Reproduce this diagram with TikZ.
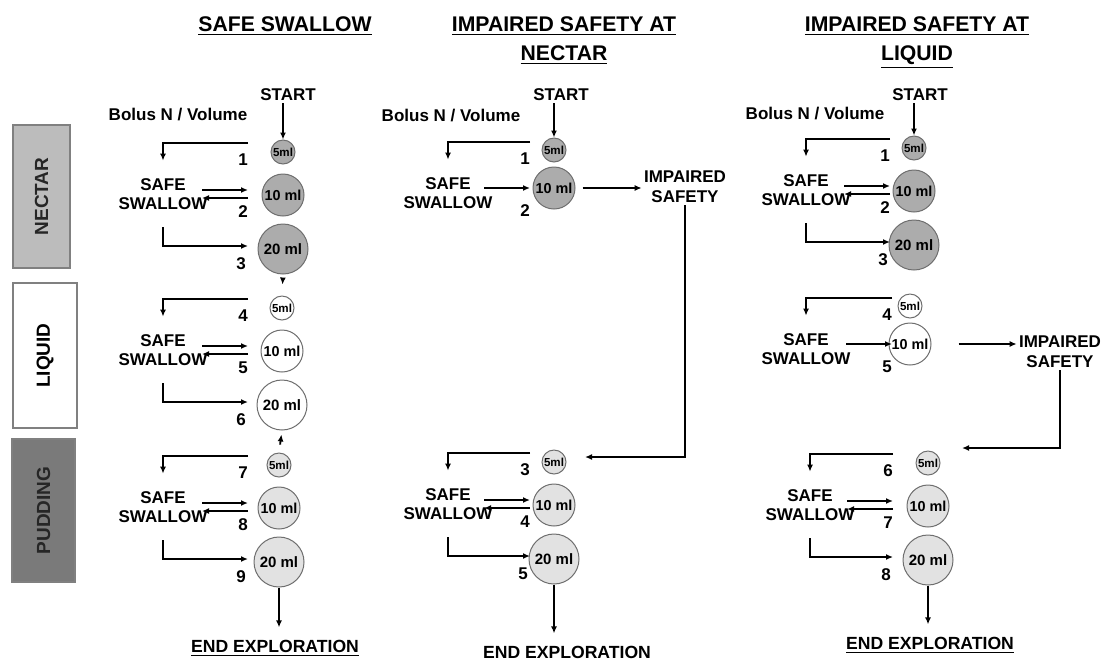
\documentclass[tikz,border=0pt]{standalone}
\usepackage{fontspec}
\setmainfont{Liberation Sans}
\usetikzlibrary{arrows.meta,calc}

\definecolor{nectarfill}{RGB}{172,172,172}
\definecolor{puddingfill}{RGB}{226,226,226}
\definecolor{nectarbox}{RGB}{188,188,188}
\definecolor{puddingbox}{RGB}{122,122,122}
\definecolor{rim}{RGB}{110,110,110}

\tikzset{
  lbl/.style={font=\bfseries\fontsize{8.5}{9.8}\selectfont, align=center, inner sep=1pt},
  hdr/.style={font=\bfseries\fontsize{10.6}{14.5}\selectfont, align=center, inner sep=0pt, anchor=north},
  endlbl/.style={font=\bfseries\fontsize{8.8}{10}\selectfont, inner xsep=1pt, inner ysep=6pt},
  bolus/.style={circle, draw=rim, line width=0.5pt, inner sep=0pt},
  arr/.style={line width=0.9pt, -{Latex[length=3.5pt,width=3pt]}},
  dbl/.style={line width=0.7pt, -{Latex[length=3.5pt,width=3pt]}},
  sidebox/.style={draw=gray, line width=0.6pt, rotate=90, inner sep=0pt,
    font=\bfseries\fontsize{9.5}{11}\selectfont}
}

\begin{document}
\begin{tikzpicture}[x=0.5pt, y=-0.5pt]
\useasboundingbox (0,0) rectangle (1107,660);

% consistency bands
\node[sidebox, fill=nectarbox, text=black!85, minimum width=71.5pt, minimum height=28.5pt] (nectar) at (41.5,196.5) {NECTAR};
\node[sidebox, fill=white, minimum width=72.5pt, minimum height=32pt] (liquid) at (45,355.5) {LIQUID};
\node[sidebox, fill=puddingbox, text=black!85, minimum width=71.5pt, minimum height=31.5pt] (pudding) at (43.5,510.5) {PUDDING};

% column titles
\node[hdr] (hd1) at (285,16) {\underline{SAFE SWALLOW}};
\node[hdr] (hd2) at (564,16) {\underline{IMPAIRED SAFETY AT}\\\underline{NECTAR}};
\node[hdr] (hd3) at (917,16) {\underline{IMPAIRED SAFETY AT}\\\underline{LIQUID}};

\node[lbl] (bol1) at (178,115) {Bolus N / Volume};
\node[lbl] (bol2) at (451,116) {Bolus N / Volume};
\node[lbl] (bol3) at (815,114) {Bolus N / Volume};
\node[lbl] (st1) at (288,95) {START};
\node[lbl] (st2) at (561,95) {START};
\node[lbl] (st3) at (920,95) {START};

% full series: 5, 10 and 20 ml
\foreach \n/\tx/\y/\ax/\cx/\fc/\a/\b/\c in {
    a/163/197/248/283/nectarfill/1/2/3,
    b/163/353/248/282/white/4/5/6,
    c/163/510/248/279/puddingfill/7/8/9,
    e/448/507/530/554/puddingfill/3/4/5,
    f/806/193/890/914/nectarfill/1/2/3,
    h/810/508/893/928/puddingfill/6/7/8} {
  \node[lbl, minimum height=33pt] (ss\n) at (\tx,\y-3) {SAFE\\SWALLOW};
  \node[bolus, fill=\fc, minimum size=12pt, font=\bfseries\fontsize{5.8}{6}\selectfont] (s\n) at (\cx,\y-45) {5ml};
  \node[bolus, fill=\fc, minimum size=21pt, font=\bfseries\fontsize{7.2}{8}\selectfont] (m\n) at (\cx,\y-2) {10 ml};
  \node[bolus, fill=\fc, minimum size=25pt, font=\bfseries\fontsize{7.5}{8}\selectfont] (l\n) at (\cx,\y+52) {20 ml};
  \coordinate (in\n) at (\ax,\y);
  \coordinate (out\n) at (\ax-46,\y);
  \draw[arr] ([yshift=27pt]in\n) -| (ss\n.north);
  \draw[dbl] ([yshift=3.5pt]out\n) -- ([yshift=3.5pt]in\n);
  \draw[dbl] ([yshift=-0.5pt]in\n) -- ([yshift=-0.5pt]out\n);
  \draw[arr] (ss\n.south) |- ([yshift=-24.5pt]in\n);
  \node[lbl] (na\n) at (\ax-5,\y-37) {\a};
  \node[lbl] (nb\n) at (\ax-5,\y+15) {\b};
  \node[lbl] (nc\n) at (\ax-7,\y+67) {\c};
}

% series stopped after 10 ml
\foreach \n/\tx/\y/\ax/\cx/\fc/\a/\b in {
    d/448/196/530/554/nectarfill/1/2,
    g/806/352/892/910/white/4/5} {
  \node[lbl, minimum height=33pt] (ss\n) at (\tx,\y-3) {SAFE\\SWALLOW};
  \node[bolus, fill=\fc, minimum size=12pt, font=\bfseries\fontsize{5.8}{6}\selectfont] (s\n) at (\cx,\y-46) {5ml};
  \node[bolus, fill=\fc, minimum size=21pt, font=\bfseries\fontsize{7.2}{8}\selectfont] (m\n) at (\cx,\y-8) {10 ml};
  \coordinate (in\n) at (\ax,\y-8);
  \coordinate (out\n) at (\ax-46,\y-8);
  \draw[arr] ([yshift=23pt]in\n) -| (ss\n.north);
  \draw[arr] (out\n) -- (in\n);
  \node[lbl] (na\n) at (\ax-5,\y-37) {\a};
  \node[lbl] (nb\n) at (\ax-5,\y+15) {\b};
}

\node[lbl] (imp2) at (685,187) {IMPAIRED\\SAFETY};
\node[lbl] (imp3) at (1060,352) {IMPAIRED\\SAFETY};
\coordinate (back2) at (585,457);
\coordinate (back3) at (962,448);

\draw[arr] (st1.south -| sa) -- (sa.north);
\draw[arr] (st2.south -| sd) -- (sd.north);
\draw[arr] (st3.south -| sf) -- (sf.north);

\draw[arr, shorten <=2pt, shorten >=5.5pt] (la.south) -- (sb.north);
\draw[arr, shorten <=4pt, shorten >=2pt] (sc.north) -- (lb.south);

\draw[arr, shorten <=3.5pt] (md.east) -- (md.east -| imp2.west);
\draw[arr] (imp2.south) |- (back2);
\draw[arr, shorten <=13.5pt] (mg.east) -- (mg.east -| imp3.west);
\draw[arr] (imp3.south) |- (back3);

\node[endlbl] (end1) at (275,648) {\underline{END EXPLORATION}};
\node[endlbl] (end2) at (567,652) {END EXPLORATION};
\node[endlbl] (end3) at (930,645) {\underline{END EXPLORATION}};
\draw[arr] (lc.south) -- (lc.south |- end1.north);
\draw[arr] (le.south) -- (le.south |- end2.north);
\draw[arr] (lh.south) -- (lh.south |- end3.north);
\end{tikzpicture}
\end{document}
